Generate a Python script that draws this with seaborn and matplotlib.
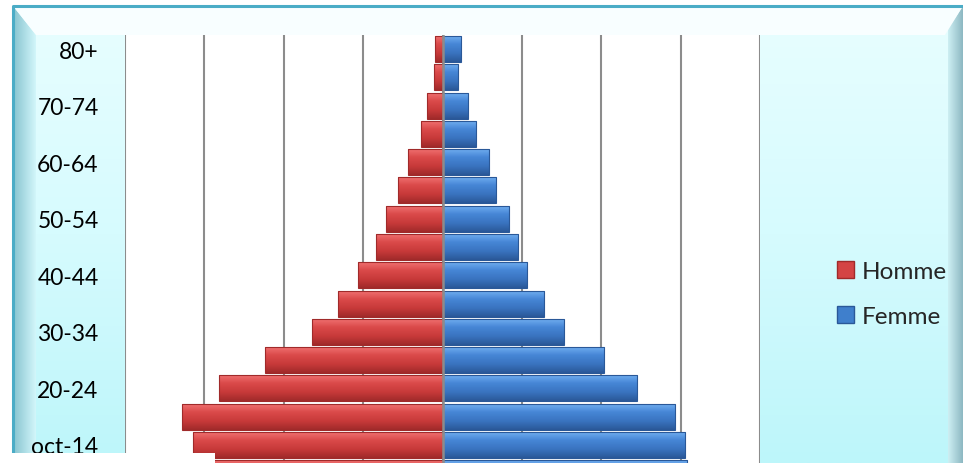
import numpy as np
import matplotlib
matplotlib.use("Agg")
import matplotlib.pyplot as plt
from matplotlib.colors import LinearSegmentedColormap
from matplotlib.patches import Patch, Polygon, Rectangle
import seaborn as sns

# age groups, top to bottom (Excel turned "10-14" into "oct-14")
ages = ["80+", "75-79", "70-74", "65-69", "60-64", "55-59", "50-54", "45-49",
        "40-44", "35-39", "30-34", "25-29", "20-24", "15-19", "oct-14", "5-9"]
homme = [0.10, 0.11, 0.19, 0.27, 0.43, 0.56, 0.71, 0.84,
         1.07, 1.32, 1.65, 2.24, 2.81, 3.28, 3.14, 3.00]
femme = [0.23, 0.20, 0.32, 0.42, 0.58, 0.67, 0.84, 0.95,
         1.07, 1.28, 1.53, 2.04, 2.45, 2.93, 3.06, 3.08]
grid_ticks = [-4, -3, -2, -1, 0, 1, 2, 3, 4]
series = ["Homme", "Femme"]

RED = "#D44444"
BLUE = "#3F7FCC"

sns.set_style("white")
plt.rcParams["font.family"] = ["Lato", "DejaVu Sans"]

W, H = 963, 464
fig = plt.figure(figsize=(W / 100, H / 100), dpi=100)
fig.patch.set_facecolor("white")

# --- background frame (Excel style bevel) ---
bg = fig.add_axes([0, 0, 1, 1], zorder=-1)
bg.set_xlim(0, W)
bg.set_ylim(H, 0)
bg.axis("off")
cyan = LinearSegmentedColormap.from_list("cyan", ["#E8FEFF", "#D6FBFE", "#BDF6FA"])
bg.imshow(np.linspace(0, 1, 200).reshape(-1, 1), extent=(13, W, H, 7),
          cmap=cyan, aspect="auto", origin="upper")
bg.add_patch(Polygon([(13, 7), (W, 7), (945, 36), (36, 36)],
                     closed=True, facecolor="#F8FEFF", edgecolor="none"))
left_bev = Polygon([(13, 7), (36, 36), (36, H), (13, H)], closed=True,
                   facecolor="none", edgecolor="none")
bg.add_patch(left_bev)
im = bg.imshow(np.linspace(0, 1, 50).reshape(1, -1), extent=(13, 36, H, 7),
               cmap=LinearSegmentedColormap.from_list("lb", ["#86C3CF", "#D2F6FA"]),
               aspect="auto")
im.set_clip_path(left_bev)
right_bev = Polygon([(W, 7), (W, H), (948, H), (948, 30)], closed=True,
                    facecolor="none", edgecolor="none")
bg.add_patch(right_bev)
im = bg.imshow(np.linspace(0, 1, 50).reshape(1, -1), extent=(948, W, H, 7),
               cmap=LinearSegmentedColormap.from_list("rb", ["#CDEFF3", "#8DB8C2"]),
               aspect="auto")
im.set_clip_path(right_bev)
bg.plot([13, 13, W], [H, 7, 7], color="#4BACC6", lw=2.2, solid_capstyle="butt")
bg.set_xlim(0, W)
bg.set_ylim(H, 0)

# --- pyramid ---
ax = fig.add_axes([125 / W, 0, 635 / W, (H - 36) / H])
ax.set_facecolor("white")
sns.barplot(x=-np.array(homme), y=ages, orient="h", color=RED, saturation=1,
            width=0.92, ax=ax)
sns.barplot(x=np.array(femme), y=ages, orient="h", color=BLUE, saturation=1,
            width=0.92, ax=ax)

# give each bar a vertical shading like the 3D Excel bars
shade = {
    RED: ["#F27474", "#DA4A4A", "#C83A3A", "#A02A2A"],
    BLUE: ["#74B2F2", "#4686D6", "#3A74C0", "#2A5898"],
}
for p in list(ax.patches):
    fc = matplotlib.colors.to_hex(p.get_facecolor())
    cols = shade[RED] if fc.lower() == RED.lower() else shade[BLUE]
    cmap = LinearSegmentedColormap.from_list("s", cols)
    x0, x1 = sorted([p.get_x(), p.get_x() + p.get_width()])
    y0, y1 = sorted([p.get_y(), p.get_y() + p.get_height()])
    img = ax.imshow(np.linspace(0, 1, 60).reshape(-1, 1), extent=(x0, x1, y1, y0),
                    cmap=cmap, aspect="auto", origin="upper", zorder=2)
    img.set_clip_path(p)
    p.set_facecolor("none")
    p.set_edgecolor(cols[-1])
    p.set_linewidth(0.8)
    p.set_zorder(3)

ax.set_xlim(grid_ticks[0], grid_ticks[-1])
ax.set_ylim(14.64, -0.5)
ax.set_xticks(grid_ticks)
ax.set_xticklabels([])
ax.grid(axis="x", color="#8C8C8C", lw=1.5)
ax.grid(axis="y", visible=False)
ax.set_axisbelow(True)
ax.axvline(0, color="#8C8C8C", lw=1.8, zorder=4)
ax.set_yticks(range(0, len(ages), 2))
ax.set_yticklabels(ages[::2], fontsize=16.5, color="black")
ax.tick_params(axis="y", length=0, pad=19)
ax.tick_params(axis="x", length=0)
ax.set_xlabel("")
ax.set_ylabel("")
for s in ax.spines.values():
    s.set_visible(False)

# legend
handles = [Patch(facecolor=RED, edgecolor="#A02A2A"),
           Patch(facecolor=BLUE, edgecolor="#2A5898")]
fig.legend(handles, series, loc="center left", bbox_to_anchor=(837 / W, 1 - 295 / H),
           frameon=False, fontsize=17.5, handlelength=0.7, handleheight=0.7,
           handletextpad=0.3, labelspacing=0.95, borderpad=0, borderaxespad=0)

# white strip at bottom-left of the cropped picture
fig.add_artist(Rectangle((0, 0), 215 / W, 10 / H, transform=fig.transFigure,
                         facecolor="white", edgecolor="none", zorder=10))

fig.savefig("out.png", dpi=100)
